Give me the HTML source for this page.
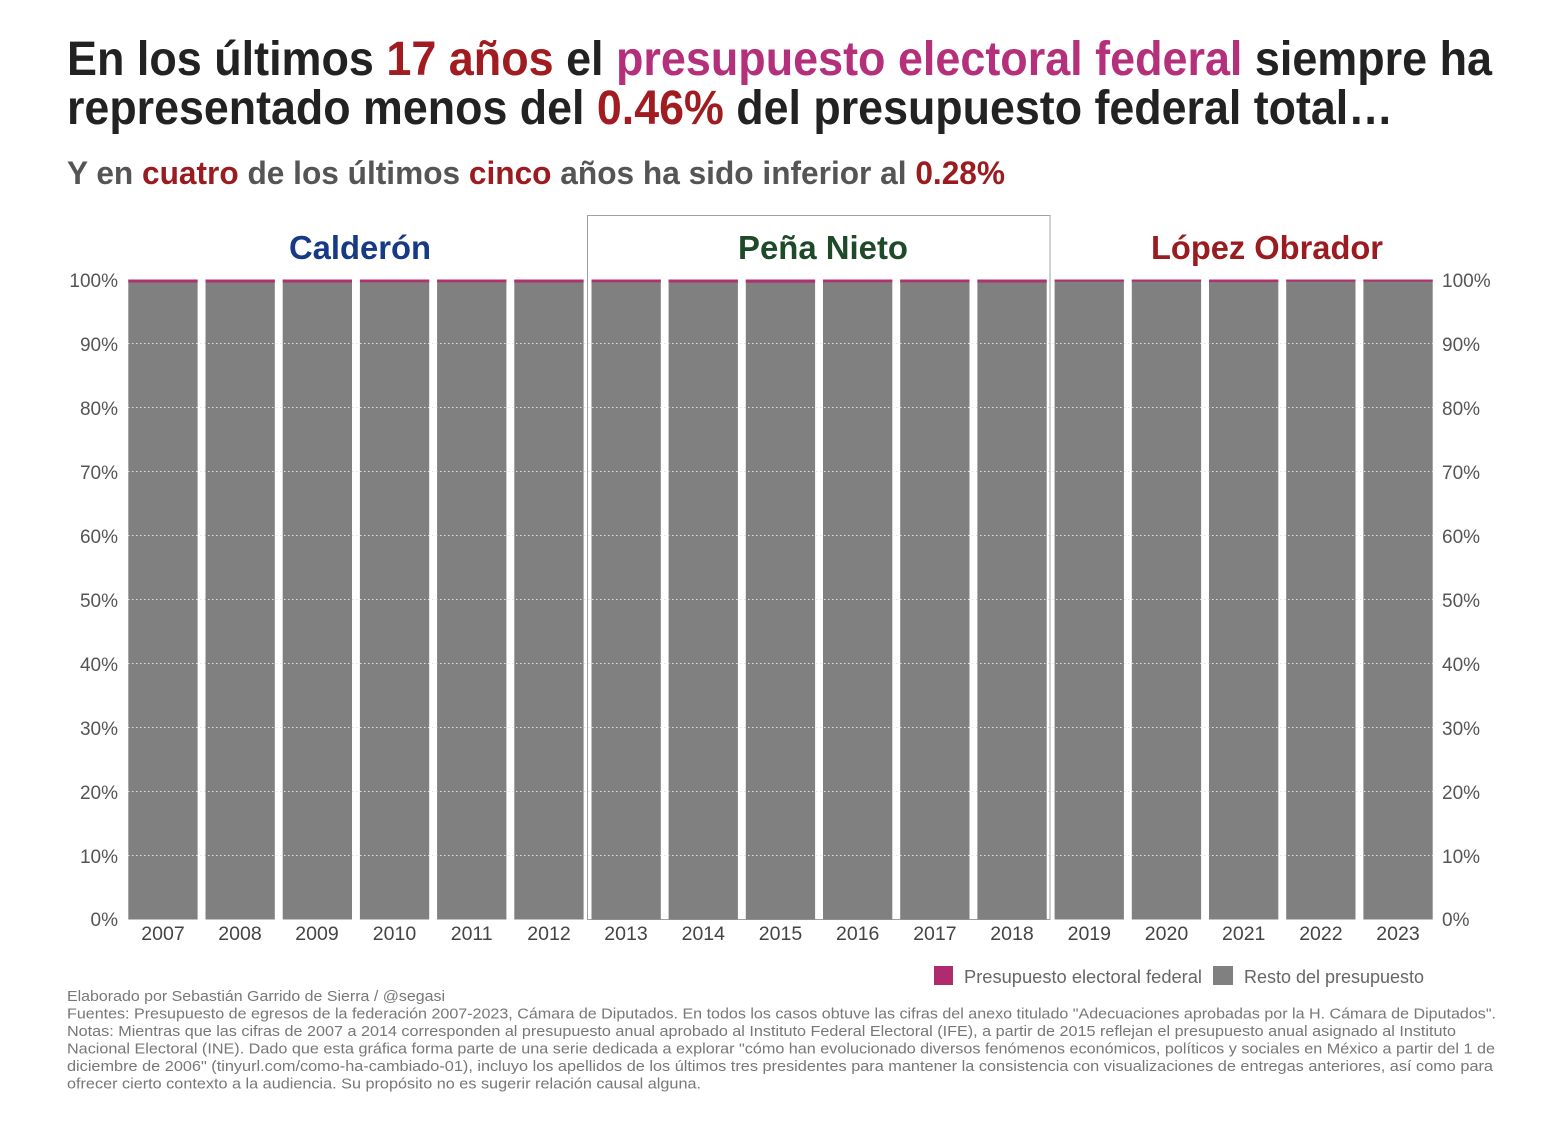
<!DOCTYPE html>
<html><head><meta charset="utf-8"><style>
html,body{margin:0;padding:0;background:#fff;}
svg{display:block;}
</style></head><body>
<svg width="1560" height="1130" viewBox="0 0 1560 1130" xmlns="http://www.w3.org/2000/svg" font-family="Liberation Sans, DejaVu Sans, sans-serif">
<rect width="1560" height="1130" fill="#fff"/>
<!-- Title -->
<text x="67" y="75" font-size="48" font-weight="bold" fill="#222" textLength="1425" lengthAdjust="spacingAndGlyphs">En los últimos <tspan fill="#a01c20">17 años</tspan> el <tspan fill="#b5307a">presupuesto electoral federal</tspan> siempre ha</text>
<text x="67" y="124" font-size="48" font-weight="bold" fill="#222" textLength="1326" lengthAdjust="spacingAndGlyphs">representado menos del <tspan fill="#a01c20">0.46%</tspan> del presupuesto federal total…</text>
<text x="67" y="184" font-size="32" font-weight="bold" fill="#555" textLength="938" lengthAdjust="spacingAndGlyphs">Y en <tspan fill="#9b1c20">cuatro</tspan> de los últimos <tspan fill="#9b1c20">cinco</tspan> años ha sido inferior al <tspan fill="#9b1c20">0.28%</tspan></text>

<!-- President labels -->
<text x="360" y="259" font-size="33" font-weight="bold" fill="#173a86" text-anchor="middle" textLength="142" lengthAdjust="spacingAndGlyphs">Calderón</text>
<text x="823" y="259" font-size="33" font-weight="bold" fill="#1e4a2a" text-anchor="middle" textLength="170" lengthAdjust="spacingAndGlyphs">Peña Nieto</text>
<text x="1267" y="259" font-size="33" font-weight="bold" fill="#9b1c20" text-anchor="middle" textLength="232" lengthAdjust="spacingAndGlyphs">López Obrador</text>

<!-- Peña Nieto box -->
<rect x="587.5" y="215.5" width="462.5" height="704" fill="none" stroke="#a0a0a0" stroke-width="1"/>

<!-- Bars -->
<g id="bars">
<rect x="128.3" y="279.5" width="69.3" height="640" fill="#808080"/><rect x="128.3" y="279.5" width="69.3" height="3" fill="#b03070"/>
<rect x="205.5" y="279.5" width="69.3" height="640" fill="#808080"/><rect x="205.5" y="279.5" width="69.3" height="3" fill="#b03070"/>
<rect x="282.7" y="279.5" width="69.3" height="640" fill="#808080"/><rect x="282.7" y="279.5" width="69.3" height="3" fill="#b03070"/>
<rect x="359.9" y="279.5" width="69.3" height="640" fill="#808080"/><rect x="359.9" y="279.5" width="69.3" height="2.8" fill="#b03070"/>
<rect x="437.1" y="279.5" width="69.3" height="640" fill="#808080"/><rect x="437.1" y="279.5" width="69.3" height="2.8" fill="#b03070"/>
<rect x="514.3" y="279.5" width="69.3" height="640" fill="#808080"/><rect x="514.3" y="279.5" width="69.3" height="3" fill="#b03070"/>
<rect x="591.5" y="279.5" width="69.3" height="640" fill="#808080"/><rect x="591.5" y="279.5" width="69.3" height="2.8" fill="#b03070"/>
<rect x="668.6" y="279.5" width="69.3" height="640" fill="#808080"/><rect x="668.6" y="279.5" width="69.3" height="3" fill="#b03070"/>
<rect x="745.8" y="279.5" width="69.3" height="640" fill="#808080"/><rect x="745.8" y="279.5" width="69.3" height="3.2" fill="#b03070"/>
<rect x="823.0" y="279.5" width="69.3" height="640" fill="#808080"/><rect x="823.0" y="279.5" width="69.3" height="2.8" fill="#b03070"/>
<rect x="900.2" y="279.5" width="69.3" height="640" fill="#808080"/><rect x="900.2" y="279.5" width="69.3" height="2.8" fill="#b03070"/>
<rect x="977.4" y="279.5" width="69.3" height="640" fill="#808080"/><rect x="977.4" y="279.5" width="69.3" height="3" fill="#b03070"/>
<rect x="1054.6" y="279.5" width="69.3" height="640" fill="#808080"/><rect x="1054.6" y="279.5" width="69.3" height="2.2" fill="#b03070"/>
<rect x="1131.8" y="279.5" width="69.3" height="640" fill="#808080"/><rect x="1131.8" y="279.5" width="69.3" height="2.2" fill="#b03070"/>
<rect x="1209.0" y="279.5" width="69.3" height="640" fill="#808080"/><rect x="1209.0" y="279.5" width="69.3" height="2.6" fill="#b03070"/>
<rect x="1286.2" y="279.5" width="69.3" height="640" fill="#808080"/><rect x="1286.2" y="279.5" width="69.3" height="2.2" fill="#b03070"/>
<rect x="1363.4" y="279.5" width="69.3" height="640" fill="#808080"/><rect x="1363.4" y="279.5" width="69.3" height="2.2" fill="#b03070"/>
</g>

<!-- Grid lines -->
<g stroke="#e2e2e2" stroke-width="1" stroke-dasharray="1.5 2.5">
<line x1="128" x2="1433" y1="343.5" y2="343.5"/>
<line x1="128" x2="1433" y1="407.5" y2="407.5"/>
<line x1="128" x2="1433" y1="471.5" y2="471.5"/>
<line x1="128" x2="1433" y1="535.5" y2="535.5"/>
<line x1="128" x2="1433" y1="599.5" y2="599.5"/>
<line x1="128" x2="1433" y1="663.5" y2="663.5"/>
<line x1="128" x2="1433" y1="727.5" y2="727.5"/>
<line x1="128" x2="1433" y1="791.5" y2="791.5"/>
<line x1="128" x2="1433" y1="855.5" y2="855.5"/>
</g>

<!-- Left axis labels -->
<g font-size="19" fill="#555" text-anchor="end">
<text x="118" y="287">100%</text>
<text x="118" y="351">90%</text>
<text x="118" y="415">80%</text>
<text x="118" y="479">70%</text>
<text x="118" y="543">60%</text>
<text x="118" y="607">50%</text>
<text x="118" y="671">40%</text>
<text x="118" y="735">30%</text>
<text x="118" y="799">20%</text>
<text x="118" y="863">10%</text>
<text x="118" y="926">0%</text>
</g>
<!-- Right axis labels -->
<g font-size="19" fill="#555">
<text x="1442" y="287">100%</text>
<text x="1442" y="351">90%</text>
<text x="1442" y="415">80%</text>
<text x="1442" y="479">70%</text>
<text x="1442" y="543">60%</text>
<text x="1442" y="607">50%</text>
<text x="1442" y="671">40%</text>
<text x="1442" y="735">30%</text>
<text x="1442" y="799">20%</text>
<text x="1442" y="863">10%</text>
<text x="1442" y="926">0%</text>
</g>

<!-- Year labels -->
<g font-size="19.5" fill="#444" text-anchor="middle">
<text x="163" y="940">2007</text>
<text x="240" y="940">2008</text>
<text x="317" y="940">2009</text>
<text x="394.5" y="940">2010</text>
<text x="471.7" y="940">2011</text>
<text x="549" y="940">2012</text>
<text x="626" y="940">2013</text>
<text x="703.3" y="940">2014</text>
<text x="780.5" y="940">2015</text>
<text x="857.7" y="940">2016</text>
<text x="934.9" y="940">2017</text>
<text x="1012" y="940">2018</text>
<text x="1089.3" y="940">2019</text>
<text x="1166.5" y="940">2020</text>
<text x="1243.7" y="940">2021</text>
<text x="1320.9" y="940">2022</text>
<text x="1398" y="940">2023</text>
</g>

<!-- Legend -->
<rect x="934" y="966" width="19" height="19" fill="#b02a6f"/>
<text x="964" y="983" font-size="18" fill="#666" textLength="238" lengthAdjust="spacingAndGlyphs">Presupuesto electoral federal</text>
<rect x="1213" y="966" width="20" height="19" fill="#808080"/>
<text x="1244" y="983" font-size="18" fill="#666" textLength="180" lengthAdjust="spacingAndGlyphs">Resto del presupuesto</text>

<!-- Footer -->
<g font-size="14.5" fill="#777">
<text x="67" y="1001" textLength="378" lengthAdjust="spacingAndGlyphs">Elaborado por Sebastián Garrido de Sierra / @segasi</text>
<text x="67" y="1018.5" textLength="1429" lengthAdjust="spacingAndGlyphs">Fuentes: Presupuesto de egresos de la federación 2007-2023, Cámara de Diputados. En todos los casos obtuve las cifras del anexo titulado "Adecuaciones aprobadas por la H. Cámara de Diputados".</text>
<text x="67" y="1036" textLength="1389" lengthAdjust="spacingAndGlyphs">Notas: Mientras que las cifras de 2007 a 2014 corresponden al presupuesto anual aprobado al Instituto Federal Electoral (IFE), a partir de 2015 reflejan el presupuesto anual asignado al Instituto</text>
<text x="67" y="1053.5" textLength="1428" lengthAdjust="spacingAndGlyphs">Nacional Electoral (INE). Dado que esta gráfica forma parte de una serie dedicada a explorar "cómo han evolucionado diversos fenómenos económicos, políticos y sociales en México a partir del 1 de</text>
<text x="67" y="1071" textLength="1426" lengthAdjust="spacingAndGlyphs">diciembre de 2006" (tinyurl.com/como-ha-cambiado-01), incluyo los apellidos de los últimos tres presidentes para mantener la consistencia con visualizaciones de entregas anteriores, así como para</text>
<text x="67" y="1088.5" textLength="634" lengthAdjust="spacingAndGlyphs">ofrecer cierto contexto a la audiencia. Su propósito no es sugerir relación causal alguna.</text>
</g>
</svg>
</body></html>
